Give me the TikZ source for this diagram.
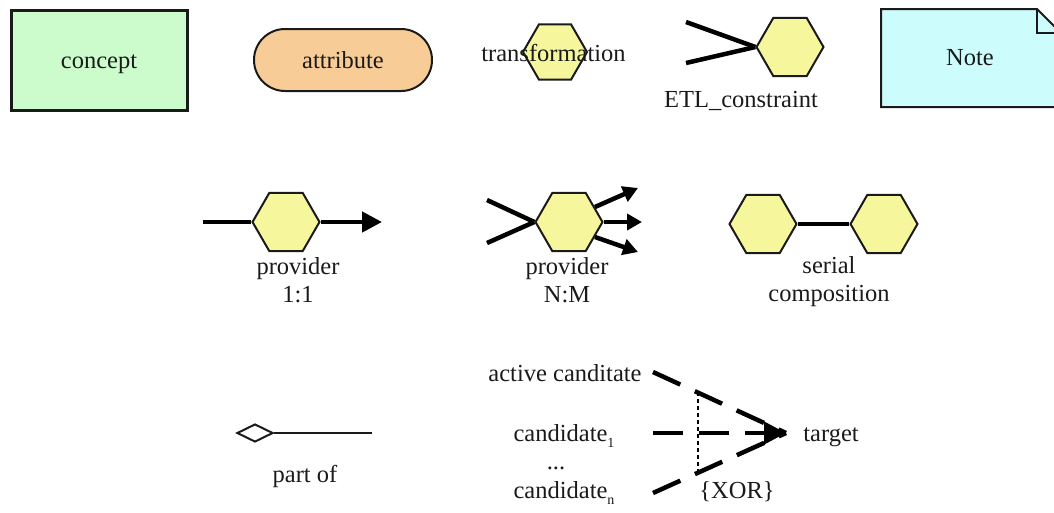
\documentclass[tikz,border=0pt]{standalone}
\usepackage{fontspec}
\setmainfont{Liberation Serif}
\usetikzlibrary{shapes.geometric,arrows.meta}

\definecolor{conceptfill}{HTML}{CCFCCC}
\definecolor{attrfill}{HTML}{F8CC96}
\definecolor{hexfill}{HTML}{F6F79C}
\definecolor{notefill}{HTML}{CCFCFC}
\definecolor{ink}{HTML}{1A1A1A}

\tikzset{
  lbl/.style={font=\fontsize{24.5}{28}\selectfont, text=ink, inner sep=0pt, align=center},
  conceptbox/.style={draw=ink, line width=3pt, fill=conceptfill,
    minimum width=176pt, minimum height=100pt, inner sep=0pt},
  attrbox/.style={lbl, draw=ink, line width=2pt, fill=attrfill, rounded corners=31pt,
    minimum width=178pt, minimum height=62pt},
  hexa/.style={regular polygon, regular polygon sides=6, minimum size=67pt,
    inner sep=0pt, draw=ink, line width=2pt, fill=hexfill},
  heavy/.style={draw=black, line width=4.5pt},
  bigtip/.style={-{Triangle[length=20pt,width=20pt]}},
  smalltip/.style={-{Triangle[length=15pt,width=16pt]}},
  xortip/.style={-{Triangle[length=22pt,width=22pt]}},
  xordash/.style={draw=black, line width=4.5pt, dash pattern=on 30pt off 16pt},
  xorbar/.style={draw=black, line width=2pt, dash pattern=on 4pt off 3pt},
}
\newcommand{\lowidx}[1]{\raisebox{-0.45ex}{\fontsize{14}{14}\selectfont #1}}

\begin{document}
\begin{tikzpicture}[x=1pt,y=-1pt]
\useasboundingbox (0,0) rectangle (1054,512);

% ---- top row: element types ----
\node[conceptbox] (concept) at (99,60) {};
\node[lbl] (conceptlbl) at (99,64) {concept};
\node[attrbox] (attribute) at (343,60) {attribute};

\node[hexa, minimum size=64pt] (trans) at (555,52) {};
\node[lbl] (translbl) at (553.5,53) {transformation};

\node[hexa] (etl) at (790,47) {};
\coordinate (etlA) at (686,22);
\coordinate (etlB) at (686,63);
\draw[heavy] (etlA) -- (etl.west);
\draw[heavy] (etlB) -- (etl.west);
\node[lbl] (etllbl) at (741,101) {ETL\_constraint};

% note with folded corner
\draw[draw=ink, line width=2pt, fill=notefill]
  (881,9) -- (1037,9) -- (1061,33) -- (1061,107) -- (881,107) -- cycle;
\draw[draw=ink, line width=2pt] (1037,9) -- (1037,33) -- (1061,33);
\node[lbl] (note) at (970,58) {Note};

% ---- middle row: providers and composition ----
\node[hexa] (p1) at (286,222) {};
\coordinate (p1in) at (203,222);
\coordinate (p1out) at (382,222);
\draw[heavy] (p1in) -- (p1.west);
\draw[heavy, bigtip] (p1.east) -- (p1out);
\node[lbl] (p1lbl) at (298,280) {provider\\1:1};

\node[hexa] (nm) at (569,222) {};
\coordinate (nmA) at (487,200);
\coordinate (nmB) at (487,243);
\coordinate (nmU) at (638,188);
\coordinate (nmM) at (642,222);
\coordinate (nmD) at (638,252);
\draw[heavy] (nmA) -- (nm.west);
\draw[heavy] (nmB) -- (nm.west);
\draw[heavy, smalltip] (nm.30) -- (nmU);
\draw[heavy, smalltip] (nm.east) -- (nmM);
\draw[heavy, smalltip] (nm.-30) -- (nmD);
\node[lbl] (nmlbl) at (567,280) {provider\\N:M};

\node[hexa] (s1) at (763,224) {};
\node[hexa] (s2) at (884,224) {};
\draw[heavy] (s1.east) -- (s2.west);
\node[lbl] (serlbl) at (829,282) {serial\\composition};

% ---- bottom row: part-of and XOR choice ----
\node[diamond, draw=ink, line width=2pt, fill=white, aspect=2,
      minimum width=36pt, minimum height=18pt, inner sep=0pt] (whole) at (255,433) {};
\coordinate (partend) at (372,433);
\draw[draw=ink, line width=2.4pt] (whole.east) -- (partend);
\node[lbl] (partlbl) at (305,476) {part of};

\node[lbl] (active) at (565,373) {active canditate};
\node[lbl] (cand1) at (564,436) {candidate\lowidx{1}};
\node[lbl] (dots) at (556,468) {...};
\node[lbl] (candn) at (564,493) {candidate\lowidx{n}};
\node[lbl] (target) at (831,437) {target};

\coordinate (aS) at (653,372);
\coordinate (mS) at (653,433);
\coordinate (nS) at (653,493);
\coordinate (tip) at (786,433);
\draw[xordash] (aS) -- (tip);
\draw[xordash] (nS) -- (tip);
\draw[xordash, xortip] (mS) -- (tip);

\coordinate (xtop) at (698,392);
\coordinate (xbot) at (698,473);
\draw[xorbar] (xtop) -- (xbot);
\node[lbl] (xor) at (737,492) {\{XOR\}};
\end{tikzpicture}
\end{document}
